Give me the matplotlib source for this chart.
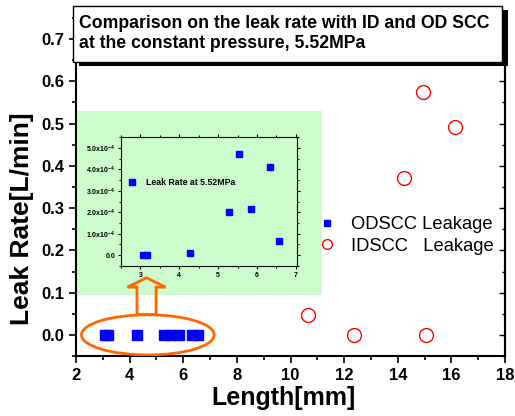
import matplotlib
matplotlib.use('Agg')
import matplotlib.pyplot as plt
from matplotlib.patches import Rectangle, Ellipse, FancyArrow
from matplotlib.ticker import MultipleLocator, FuncFormatter

plt.rcParams['font.family'] = ['Liberation Sans', 'DejaVu Sans']
plt.rcParams['mathtext.fontset'] = 'custom'
plt.rcParams['mathtext.rm'] = 'Liberation Sans'
plt.rcParams['mathtext.bf'] = 'Liberation Sans:bold'

# ODSCC crack lengths [mm] and leak rates (main plot ~0, inset in 1e-4 L/min)
od_length = [3.07, 3.18, 4.28, 5.29, 5.53, 5.85, 6.33, 6.56]
od_leak = [0.0, 0.0, 0.0, 0.0, 0.0, 0.0, 0.0, 0.0]
od_leak_e4 = [0.0, 0.02, 0.12, 2.03, 4.69, 2.17, 4.11, 0.68]

# IDSCC crack lengths [mm] and leak rates [L/min]
id_length = [10.67, 12.35, 14.25, 14.95, 15.06, 16.15]
id_leak = [0.046, 0.0, 0.371, 0.576, 0.0, 0.492]

title = 'Comparison on the leak rate with ID and OD SCC\nat the constant pressure, 5.52MPa'
inset_yticks = [0, 1, 2, 3, 4, 5]

W, H = 515, 416
fig = plt.figure(figsize=(W / 100, H / 100), dpi=100)


def px(x0, y0, x1, y1):
    # pixel box (from top-left) -> figure fraction rect
    return [x0 / W, 1 - y1 / H, (x1 - x0) / W, (y1 - y0) / H]


ax = fig.add_axes(px(76, 18, 505, 356))
ax.set_xlim(2, 18)
ax.set_ylim(-0.05, 0.75)

# green background behind the inset
ax.add_patch(Rectangle((2, 0.095), 9.16, 0.435, facecolor='#ccfccc',
                       edgecolor='none', zorder=0))

ax.plot(od_length, od_leak, 's', color='#0000ff', markersize=7,
        label='ODSCC Leakage', zorder=3)
ax.plot(id_length, id_leak, 'o', mfc='none', mec='#ff0000', mew=1.0,
        markersize=10, label='IDSCC   Leakage', zorder=3)

ax.xaxis.set_major_locator(MultipleLocator(2))
ax.xaxis.set_minor_locator(MultipleLocator(1))
ax.yaxis.set_major_locator(MultipleLocator(0.1))
ax.yaxis.set_minor_locator(MultipleLocator(0.05))
ax.yaxis.set_major_formatter(FuncFormatter(lambda v, p: f'{v:.1f}'))
ax.tick_params(which='both', direction='out', labelsize=12, width=1.2)
ax.tick_params(which='major', length=5)
ax.tick_params(which='minor', length=3)
for lab in ax.get_xticklabels() + ax.get_yticklabels():
    lab.set_fontweight('bold')
for s in ax.spines.values():
    s.set_linewidth(1.5)

# inward ticks on the right spine
sec = ax.secondary_yaxis('right')
sec.yaxis.set_major_locator(MultipleLocator(0.1))
sec.yaxis.set_minor_locator(MultipleLocator(0.05))
sec.tick_params(which='both', direction='in', labelright=False, width=1)
sec.tick_params(which='major', length=4)
sec.tick_params(which='minor', length=2.5)
sec.spines['right'].set_linewidth(1.5)

ax.set_xlabel('Length[mm]', fontsize=18, fontweight='bold')
ax.set_ylabel('Leak Rate[L/min]', fontsize=19, fontweight='bold')
ax.xaxis.set_label_coords(0.483, -0.09)
ax.yaxis.set_label_coords(-0.098, 0.405)

ax.legend(loc='upper left', bbox_to_anchor=(0.555, 0.435), frameon=False,
          fontsize=13.2, handlelength=0.6, handletextpad=1.0,
          labelspacing=0.25, borderaxespad=0, markerscale=0.7)

# orange ellipse and hollow arrow pointing at the inset
ax.add_patch(Ellipse((4.68, 0.0), 4.95, 0.095, facecolor='none',
                     edgecolor='#ff6600', linewidth=2, zorder=4))
ax.add_patch(FancyArrow(4.63, 0.048, 0, 0.087, width=0.71, head_width=1.42,
                        head_length=0.022, length_includes_head=True,
                        facecolor='none', edgecolor='#ff6600', linewidth=2,
                        zorder=4))

# inset
ins = fig.add_axes(px(121, 137, 297, 266))
ins.set_facecolor('none')
ins.plot(od_length, od_leak_e4, 's', color='#0000ff', markersize=4.5,
         label='Leak Rate at 5.52MPa')
ins.set_xlim(2.5, 7.03)
ins.set_ylim(-0.5, 5.5)
ins.xaxis.set_major_locator(MultipleLocator(1))
ins.xaxis.set_minor_locator(MultipleLocator(0.5))
ins.set_yticks(inset_yticks)
ins.yaxis.set_minor_locator(MultipleLocator(0.5))
ins.yaxis.set_major_formatter(FuncFormatter(
    lambda v, p: '0.0' if v == 0 else rf'{v:.1f}x10$^{{\mathbf{{-4}}}}$'))
ins.tick_params(which='both', direction='out', labelsize=5, width=0.8,
                pad=1.5)
ins.tick_params(which='major', length=2.5)
ins.tick_params(which='minor', length=1.5)
ins.tick_params(which='both', right=True, top=True)
for lab in ins.get_xticklabels() + ins.get_yticklabels():
    lab.set_fontweight('bold')
ins.legend(loc='center left', bbox_to_anchor=(0.03, 0.65), frameon=False,
           handlelength=0.6, handletextpad=1.3, borderaxespad=0,
           prop={'weight': 'bold', 'size': 6.3})

# title box with shadow
fig.patches.append(Rectangle((79 / W, 1 - 66 / H), 429 / W, 56 / H,
                             transform=fig.transFigure, facecolor='black',
                             edgecolor='none', zorder=5))
fig.patches.append(Rectangle((73 / W, 1 - 62 / H), 429 / W, 56 / H,
                             transform=fig.transFigure, facecolor='white',
                             edgecolor='black', linewidth=1, zorder=6))
fig.text(79 / W, 1 - 33.5 / H, title, fontsize=12.7, fontweight='bold',
         va='center', ha='left', linespacing=1.3, zorder=7)

fig.savefig('out.png', dpi=100)
